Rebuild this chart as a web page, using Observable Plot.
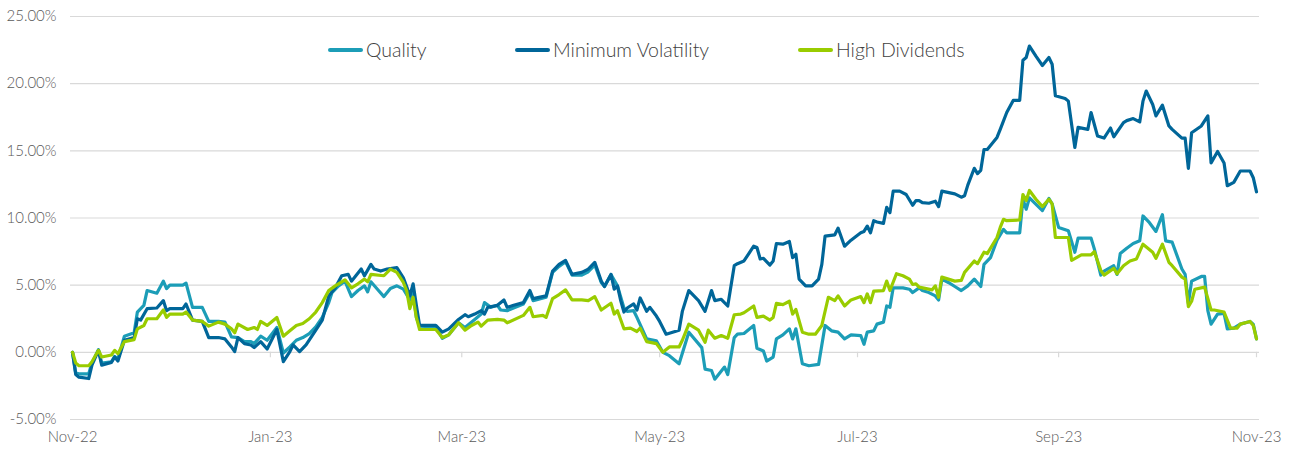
<!DOCTYPE html>
<html><head><meta charset="utf-8">
<script src="https://cdn.jsdelivr.net/npm/d3@7"></script>
<script src="https://cdn.jsdelivr.net/npm/@observablehq/plot@0.6"></script>
<style>
body{margin:0;background:#fff;font-family:Lato,"Open Sans",sans-serif;}
#wrap{position:relative;width:1290px;height:450px;}
.item{position:absolute;top:38px;display:flex;align-items:center;white-space:nowrap;font-size:19.5px;line-height:24px;font-weight:300;color:#404040;}
.sw{width:35px;height:4px;border-radius:2px;margin-right:3px;}
svg text{font-weight:300;}
</style></head><body><div id="wrap"></div>
<script>
const seriesNames = ["Quality", "Minimum Volatility", "High Dividends"];
const seriesColors = ["#1C9DB7", "#006699", "#99CC00"];
const yTicks = [-5, 0, 5, 10, 15, 20, 25];
const xTickDates = ["2022-11-01", "2023-01-01", "2023-03-01", "2023-05-01", "2023-07-01", "2023-09-01", "2023-11-01"];

const qualityDates = [
"2022-11-01","2022-11-02","2022-11-03","2022-11-06","2022-11-07","2022-11-09","2022-11-10","2022-11-13","2022-11-14","2022-11-15","2022-11-17","2022-11-20","2022-11-21","2022-11-23","2022-11-24","2022-11-27","2022-11-29","2022-11-30",
"2022-12-01","2022-12-05","2022-12-06","2022-12-08","2022-12-11","2022-12-13","2022-12-16","2022-12-18","2022-12-20","2022-12-22","2022-12-24","2022-12-26","2022-12-27","2022-12-29","2022-12-31",
"2023-01-03","2023-01-05","2023-01-07","2023-01-09","2023-01-11","2023-01-13","2023-01-15","2023-01-17","2023-01-19","2023-01-20","2023-01-22","2023-01-24","2023-01-26","2023-01-28","2023-01-30","2023-01-31",
"2023-02-01","2023-02-03","2023-02-05","2023-02-07","2023-02-09","2023-02-11","2023-02-13","2023-02-14","2023-02-15","2023-02-16","2023-02-21","2023-02-23","2023-02-25","2023-02-28",
"2023-03-02","2023-03-05","2023-03-07","2023-03-08","2023-03-10","2023-03-12","2023-03-13","2023-03-15","2023-03-20","2023-03-22","2023-03-23","2023-03-27","2023-03-29","2023-03-31",
"2023-04-02","2023-04-04","2023-04-07","2023-04-09","2023-04-11","2023-04-13","2023-04-14","2023-04-16","2023-04-18","2023-04-20","2023-04-21","2023-04-23","2023-04-24","2023-04-27","2023-04-30",
"2023-05-02","2023-05-04","2023-05-07","2023-05-10","2023-05-14","2023-05-15","2023-05-17","2023-05-18","2023-05-21","2023-05-22","2023-05-24","2023-05-25","2023-05-27","2023-05-30","2023-05-31",
"2023-06-02","2023-06-03","2023-06-05","2023-06-06","2023-06-08","2023-06-10","2023-06-11","2023-06-12","2023-06-14","2023-06-16","2023-06-19","2023-06-21","2023-06-23","2023-06-25","2023-06-27","2023-06-29",
"2023-07-02","2023-07-03","2023-07-04","2023-07-06","2023-07-07","2023-07-09","2023-07-10","2023-07-11","2023-07-12","2023-07-15","2023-07-17","2023-07-18","2023-07-20","2023-07-21","2023-07-23","2023-07-25","2023-07-26","2023-07-27","2023-07-29","2023-07-31",
"2023-08-02","2023-08-04","2023-08-06","2023-08-08","2023-08-09","2023-08-11","2023-08-13","2023-08-15","2023-08-16","2023-08-20","2023-08-21","2023-08-22","2023-08-23","2023-08-27","2023-08-29","2023-08-30",
"2023-09-01","2023-09-04","2023-09-06","2023-09-07","2023-09-11","2023-09-12","2023-09-14","2023-09-15","2023-09-18","2023-09-19","2023-09-20","2023-09-22","2023-09-24","2023-09-26","2023-09-27","2023-09-29",
"2023-10-01","2023-10-03","2023-10-04","2023-10-06","2023-10-09","2023-10-10","2023-10-11","2023-10-12","2023-10-15","2023-10-16","2023-10-17","2023-10-18","2023-10-20","2023-10-22","2023-10-23","2023-10-25","2023-10-27","2023-10-30","2023-10-31",
"2023-11-01"];
const qualityValues = [
0.0,-1.55,-1.6,-1.6,-0.8,0.2,-0.8,-0.7,-0.3,-0.5,1.2,1.45,3.0,3.5,4.6,4.4,5.3,4.75,
5.0,5.0,5.15,3.35,3.35,2.3,2.3,2.25,1.15,1.1,0.8,0.8,0.65,1.2,0.9,
1.85,-0.05,0.4,0.9,1.1,1.4,1.9,2.6,3.7,4.45,4.95,5.3,4.15,4.6,4.95,4.5,
5.25,4.7,4.15,4.75,4.95,4.7,3.9,4.5,2.6,1.95,1.9,1.05,1.3,2.2,
1.85,2.45,2.85,3.7,3.35,3.5,3.15,3.1,3.6,4.45,3.85,4.1,5.95,6.4,
6.75,5.75,5.75,6.0,6.5,5.2,4.9,5.8,4.95,3.3,3.05,3.1,2.6,1.0,0.85,
0.0,-0.25,-0.85,1.5,0.35,-1.25,-1.35,-2.0,-1.1,-1.65,1.1,1.35,1.4,2.0,0.3,
0.1,-0.65,-0.35,1.0,1.3,1.75,1.0,1.75,-0.85,-1.0,-0.9,2.0,1.6,1.5,1.0,1.3,
1.25,0.6,1.5,1.6,2.1,2.25,3.45,3.35,4.8,4.8,4.7,4.45,4.8,4.6,4.45,4.2,3.9,5.45,5.2,4.9,
4.6,4.95,5.45,4.9,6.55,7.05,8.35,9.15,8.9,8.9,11.4,10.65,11.5,10.55,11.45,11.05,
9.3,9.05,7.45,8.5,8.5,7.7,5.75,6.05,6.45,5.8,7.35,7.75,8.1,8.3,10.15,9.65,
9.0,10.25,8.3,8.2,6.2,5.8,3.65,5.3,5.65,5.65,3.1,2.1,2.85,2.9,1.75,1.8,2.1,2.3,2.1,
1.0];

const minVolDates = [
"2022-11-01","2022-11-02","2022-11-03","2022-11-06","2022-11-07","2022-11-09","2022-11-10","2022-11-13","2022-11-14","2022-11-15","2022-11-17","2022-11-20","2022-11-21","2022-11-22","2022-11-24","2022-11-27","2022-11-29","2022-11-30",
"2022-12-01","2022-12-05","2022-12-06","2022-12-08","2022-12-11","2022-12-13","2022-12-16","2022-12-18","2022-12-20","2022-12-21","2022-12-22","2022-12-24","2022-12-26","2022-12-27","2022-12-29","2022-12-31",
"2023-01-03","2023-01-05","2023-01-07","2023-01-08","2023-01-10","2023-01-12","2023-01-15","2023-01-17","2023-01-19","2023-01-21","2023-01-23","2023-01-25","2023-01-26","2023-01-29","2023-01-30",
"2023-02-01","2023-02-02","2023-02-04","2023-02-06","2023-02-09","2023-02-11","2023-02-12","2023-02-13","2023-02-14","2023-02-15","2023-02-16","2023-02-21","2023-02-23","2023-02-25","2023-02-28",
"2023-03-02","2023-03-03","2023-03-05","2023-03-07","2023-03-08","2023-03-09","2023-03-12","2023-03-14","2023-03-15","2023-03-17","2023-03-20","2023-03-22","2023-03-23","2023-03-27","2023-03-29","2023-03-31",
"2023-04-02","2023-04-04","2023-04-07","2023-04-09","2023-04-11","2023-04-13","2023-04-14","2023-04-16","2023-04-17","2023-04-18","2023-04-19","2023-04-20","2023-04-21","2023-04-23","2023-04-24","2023-04-25","2023-04-27","2023-04-28","2023-04-30",
"2023-05-01","2023-05-03","2023-05-07","2023-05-08","2023-05-10","2023-05-13","2023-05-15","2023-05-17","2023-05-18","2023-05-20","2023-05-22","2023-05-24","2023-05-25","2023-05-27","2023-05-30","2023-05-31",
"2023-06-01","2023-06-02","2023-06-04","2023-06-05","2023-06-06","2023-06-08","2023-06-10","2023-06-11","2023-06-12","2023-06-13","2023-06-15","2023-06-17","2023-06-19","2023-06-20","2023-06-21","2023-06-24","2023-06-25","2023-06-27","2023-06-29",
"2023-07-02","2023-07-03","2023-07-04","2023-07-05","2023-07-06","2023-07-07","2023-07-09","2023-07-10","2023-07-11","2023-07-12","2023-07-14","2023-07-16","2023-07-18","2023-07-19","2023-07-20","2023-07-21","2023-07-23","2023-07-25","2023-07-26","2023-07-27","2023-07-31",
"2023-08-02","2023-08-03","2023-08-04","2023-08-06","2023-08-07","2023-08-08","2023-08-09","2023-08-10","2023-08-13","2023-08-14","2023-08-16","2023-08-18","2023-08-20","2023-08-21","2023-08-22","2023-08-23","2023-08-25","2023-08-27","2023-08-29","2023-08-30","2023-08-31",
"2023-09-03","2023-09-04","2023-09-06","2023-09-07","2023-09-10","2023-09-11","2023-09-13","2023-09-15","2023-09-17","2023-09-18","2023-09-21","2023-09-22","2023-09-24","2023-09-26","2023-09-27","2023-09-28","2023-09-30",
"2023-10-01","2023-10-03","2023-10-05","2023-10-06","2023-10-09","2023-10-10","2023-10-11","2023-10-12","2023-10-15","2023-10-17","2023-10-18","2023-10-20","2023-10-22","2023-10-23","2023-10-25","2023-10-27","2023-10-30","2023-10-31",
"2023-11-01"];
const minVolValues = [
0,-1.65,-1.85,-1.95,-0.95,0.15,-0.95,-0.75,-0.35,-0.65,0.9,1.1,2.5,2.4,3.25,3.3,3.85,3.1,
3.25,3.25,3.6,2.4,2.3,1.1,1.1,1.0,0.4,0.05,1.1,0.65,0.55,0.35,0.8,0.25,
1.7,-0.7,0.05,0.55,0.05,0.55,1.65,2.4,4.2,4.8,5.7,5.8,5.3,6.2,5.7,
6.55,6.2,6.05,6.2,6.3,5.55,4.9,4.2,5.1,3.5,2.0,2.0,1.5,1.75,2.45,
2.8,2.65,2.85,3.1,2.85,3.35,3.5,3.9,3.35,3.5,3.7,4.6,4.0,4.2,6.05,6.55,
6.85,5.8,5.95,6.2,6.7,5.3,4.9,5.8,4.7,4.95,3.85,3.0,3.3,3.6,3.15,4.05,3.05,3.35,2.7,
2.3,1.35,1.65,3.05,4.6,3.85,3.05,4.6,3.85,3.95,3.45,6.45,6.6,6.8,7.9,7.8,
6.95,7.0,6.5,6.8,8.1,8.05,8.25,7.05,7.3,5.45,4.95,4.95,5.45,6.55,8.65,8.75,9.25,7.9,8.35,
8.9,9.0,9.4,8.9,9.8,9.7,9.6,10.8,10.4,12.0,12.0,11.75,10.95,11.3,11.3,11.15,11.1,11.25,10.85,12.0,11.8,
11.55,11.65,12.45,13.7,13.3,13.55,15.1,15.1,16.0,16.6,17.85,18.75,18.75,21.75,21.95,22.8,22.05,21.35,21.95,21.45,19.1,
18.9,18.7,15.25,16.75,16.6,17.85,16.1,15.95,16.7,16.05,17.1,17.25,17.4,17.15,18.7,19.45,18.45,
17.6,18.4,16.85,16.6,15.95,15.95,13.7,16.35,16.85,17.6,14.1,14.95,14.1,12.4,12.65,13.5,13.5,13.0,
11.95];

const highDivDates = [
"2022-11-01","2022-11-02","2022-11-03","2022-11-06","2022-11-07","2022-11-09","2022-11-10","2022-11-13","2022-11-14","2022-11-15","2022-11-17","2022-11-20","2022-11-21","2022-11-23","2022-11-24","2022-11-27","2022-11-29","2022-11-30",
"2022-12-01","2022-12-05","2022-12-06","2022-12-08","2022-12-11","2022-12-13","2022-12-16","2022-12-18","2022-12-20","2022-12-21","2022-12-22","2022-12-25","2022-12-27","2022-12-28","2022-12-29","2022-12-31",
"2023-01-03","2023-01-05","2023-01-07","2023-01-09","2023-01-11","2023-01-13","2023-01-15","2023-01-17","2023-01-19","2023-01-21","2023-01-24","2023-01-26","2023-01-28","2023-01-30","2023-01-31",
"2023-02-01","2023-02-05","2023-02-07","2023-02-09","2023-02-11","2023-02-12","2023-02-13","2023-02-14","2023-02-15","2023-02-16","2023-02-21","2023-02-23","2023-02-25","2023-02-28",
"2023-03-02","2023-03-04","2023-03-06","2023-03-07","2023-03-09","2023-03-12","2023-03-14","2023-03-15","2023-03-20","2023-03-22","2023-03-23","2023-03-26","2023-03-27","2023-03-29","2023-03-31",
"2023-04-02","2023-04-04","2023-04-07","2023-04-09","2023-04-11","2023-04-13","2023-04-16","2023-04-17","2023-04-18","2023-04-20","2023-04-22","2023-04-24","2023-04-25","2023-04-27","2023-04-30",
"2023-05-02","2023-05-04","2023-05-07","2023-05-08","2023-05-10","2023-05-13","2023-05-15","2023-05-16","2023-05-18","2023-05-20","2023-05-22","2023-05-24","2023-05-26","2023-05-27","2023-05-30","2023-05-31",
"2023-06-02","2023-06-04","2023-06-05","2023-06-06","2023-06-08","2023-06-10","2023-06-11","2023-06-12","2023-06-14","2023-06-16","2023-06-18","2023-06-20","2023-06-22","2023-06-24","2023-06-25","2023-06-27","2023-06-29",
"2023-07-02","2023-07-03","2023-07-04","2023-07-05","2023-07-06","2023-07-09","2023-07-10","2023-07-11","2023-07-13","2023-07-15","2023-07-17","2023-07-18","2023-07-19","2023-07-20","2023-07-24","2023-07-25","2023-07-26","2023-07-27","2023-07-31",
"2023-08-02","2023-08-03","2023-08-06","2023-08-07","2023-08-09","2023-08-10","2023-08-13","2023-08-14","2023-08-15","2023-08-16","2023-08-20","2023-08-21","2023-08-22","2023-08-23","2023-08-25","2023-08-27","2023-08-29","2023-08-30","2023-08-31",
"2023-09-04","2023-09-05","2023-09-08","2023-09-11","2023-09-12","2023-09-14","2023-09-15","2023-09-18","2023-09-19","2023-09-21","2023-09-23","2023-09-25","2023-09-27","2023-09-30",
"2023-10-01","2023-10-03","2023-10-05","2023-10-06","2023-10-09","2023-10-10","2023-10-11","2023-10-12","2023-10-13","2023-10-16","2023-10-18","2023-10-19","2023-10-22","2023-10-24","2023-10-26","2023-10-27","2023-10-30","2023-10-31",
"2023-11-01"];
const highDivValues = [
0,-0.8,-1.0,-1.0,-0.7,0.15,-0.35,-0.2,0.15,-0.1,0.8,0.95,1.75,2.0,2.5,2.5,3.15,2.6,
2.85,2.85,3.0,2.4,2.3,1.95,2.25,2.1,1.75,1.45,2.1,1.7,1.85,1.7,2.3,2.0,
2.6,1.2,1.6,2.0,2.15,2.5,3.0,3.7,4.6,4.95,5.4,4.8,5.1,5.45,5.25,
5.8,5.7,6.2,5.95,5.2,4.6,3.25,4.1,2.6,1.7,1.7,1.1,1.3,2.2,
1.65,2.0,2.25,1.95,2.4,2.45,2.4,2.2,2.75,3.35,2.65,2.75,2.6,4.0,4.3,
4.65,3.9,3.9,3.85,4.15,3.15,3.65,2.85,3.1,1.75,1.8,1.55,1.8,0.8,0.65,
0.0,0.4,0.4,0.9,2.1,1.65,0.75,1.65,1.05,1.25,1.05,2.8,2.85,2.95,3.45,2.6,
2.7,2.4,2.6,3.65,3.55,3.8,2.85,3.2,1.5,1.35,1.35,2.0,4.1,3.85,4.2,3.45,3.9,
4.15,3.7,4.35,3.7,4.55,4.6,5.3,4.6,5.85,5.7,5.45,5.05,5.1,4.85,4.65,4.95,4.1,5.6,5.3,
5.35,5.95,6.8,6.6,7.45,7.35,8.55,9.3,9.9,9.8,9.85,11.75,11.3,12.05,11.4,10.85,11.4,11.05,8.55,
8.55,6.85,7.25,7.25,7.5,6.1,5.75,6.25,5.85,6.45,6.8,6.95,8.05,7.45,
7.0,8.05,6.7,6.45,5.6,5.45,3.4,3.8,4.7,4.85,3.15,3.15,3.0,1.8,1.8,2.1,2.3,2.0,
1.0];

const legendLeft = [328, 515, 798];

const parse = d3.utcParse("%Y-%m-%d");
const seriesDates = [qualityDates, minVolDates, highDivDates];
const seriesValues = [qualityValues, minVolValues, highDivValues];
const rows = [];
seriesNames.forEach((name, i) => {
  if (seriesDates[i].length !== seriesValues[i].length) console.error("length mismatch", name, seriesDates[i].length, seriesValues[i].length);
  seriesDates[i].forEach((d, j) => rows.push({series: name, date: parse(d), value: seriesValues[i][j]}));
});
const xt = xTickDates.map(parse);

const chart = Plot.plot({
  width: 1290, height: 450,
  marginLeft: 70, marginRight: 31, marginTop: 16, marginBottom: 31,
  style: {fontFamily: "Lato, 'Open Sans', sans-serif", fontSize: "15px", color: "#595959", background: "#ffffff"},
  x: {type: "utc", domain: [xt[0], xt[xt.length - 1]], range: [72, 1256], ticks: xt, tickFormat: d3.utcFormat("%b-%y"), tickSize: 0, tickPadding: 12, label: null},
  y: {domain: [-5, 25], ticks: yTicks, tickFormat: d => d.toFixed(2) + "%", tickSize: 0, tickPadding: 14, label: null},
  color: {domain: seriesNames, range: seriesColors},
  marks: [
    Plot.ruleY(yTicks, {stroke: "#d9d9d9", strokeWidth: 1.2}),
    Plot.ruleX(xt, {x: d => d, y1: 0, y2: -0.4, stroke: "#d9d9d9", strokeWidth: 1.2}),
    Plot.line(rows, {x: "date", y: "value", z: "series", stroke: "series", strokeWidth: 3.2, strokeLinejoin: "round", strokeLinecap: "round"})
  ]
});
const wrap = document.getElementById("wrap");
wrap.appendChild(chart);

seriesNames.forEach((name, i) => {
  const item = document.createElement("div");
  item.className = "item";
  item.style.left = legendLeft[i] + "px";
  const sw = document.createElement("span");
  sw.className = "sw";
  sw.style.background = seriesColors[i];
  const label = document.createElement("span");
  label.textContent = name;
  item.appendChild(sw);
  item.appendChild(label);
  wrap.appendChild(item);
});
</script></body></html>
